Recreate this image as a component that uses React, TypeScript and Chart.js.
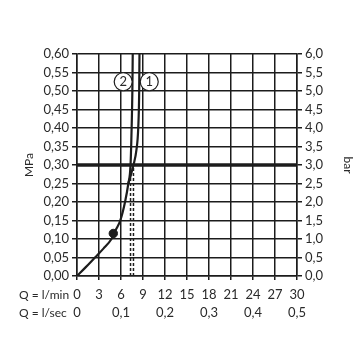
import React, { useEffect, useRef } from "react";
import { Chart, registerables } from "chart.js";

Chart.register(...registerables);

// ---- data ----
const flowLpmTicks = [0, 3, 6, 9, 12, 15, 18, 21, 24, 27, 30];
const flowLpmLabels = ["0", "3", "6", "9", "12", "15", "18", "21", "24", "27", "30"];
const flowLpsTicks = [0, 0.1, 0.2, 0.3, 0.4, 0.5];
const flowLpsLabels = ["0", "0,1", "0,2", "0,3", "0,4", "0,5"];
const mpaTicks = [0, 0.05, 0.1, 0.15, 0.2, 0.25, 0.3, 0.35, 0.4, 0.45, 0.5, 0.55, 0.6];
const mpaLabels = ["0,00", "0,05", "0,10", "0,15", "0,20", "0,25", "0,30", "0,35", "0,40", "0,45", "0,50", "0,55", "0,60"];
const barTicks = [0, 0.5, 1, 1.5, 2, 2.5, 3, 3.5, 4, 4.5, 5, 5.5, 6];
const barLabels = ["0,0", "0,5", "1,0", "1,5", "2,0", "2,5", "3,0", "3,5", "4,0", "4,5", "5,0", "5,5", "6,0"];
const rowTitles = ["Q = l/min", "Q = l/sec"];
const axisTitles = ["MPa", "bar"];

// curve 2 (solid, with marker)
const curve2Q = [0, 1.2, 2.45, 3.6, 4.7, 5.3, 5.9, 6.55, 7.0, 7.3, 7.45, 7.55, 7.6];
const curve2P = [0, 0.024, 0.05, 0.074, 0.1, 0.125, 0.15, 0.2, 0.25, 0.3, 0.4, 0.5, 0.6];
// curve 1 (splits from curve 2 near the top)
const curve1Q = [7.0, 7.3, 7.7, 8.1, 8.35, 8.48, 8.52];
const curve1P = [0.25, 0.27, 0.3, 0.34, 0.4, 0.5, 0.6];
// dashed drop lines at 0.30 MPa
const dropQ = [7.3, 7.7];
const dropP = 0.3;
// reference pressure line
const refP = 0.3;
// marker on curve 2
const markerQ = [4.95];
const markerP = [0.115];
// curve number bubbles
const bubbleLabels = ["2", "1"];
const bubbleQ = [6.3, 9.85];
const bubbleP = [0.525, 0.525];

const FONT = "Lato, 'Open Sans', sans-serif";
const FONT_SIZE = 13;
const INK = "#1c1c1c";
const TXT = "#2a2a2a";
const X_TICK_LEN = 4;
const X_PAD = 7;
const X2_PAD = 3;

const textPlugin = {
  id: "extraText",
  afterDraw(chart: any) {
    const ctx = chart.ctx;
    ctx.save();
    ctx.fillStyle = TXT;
    ctx.font = `${FONT_SIZE}px ${FONT}`;
    ctx.textAlign = "center";
    ctx.textBaseline = "middle";
    const meta = chart.getDatasetMeta(0);
    meta.data.forEach((pt: any, i: number) => {
      ctx.fillText(bubbleLabels[i], pt.x, pt.y + 0.5);
    });
    ctx.textAlign = "left";
    ctx.font = `12px ${FONT}`;
    const half = (FONT_SIZE * 1.2) / 2;
    const xs = chart.scales.x;
    const xs2 = chart.scales.x2;
    ctx.fillText(rowTitles[0], 19, xs.top + X_TICK_LEN + X_PAD + half);
    ctx.fillText(rowTitles[1], 19, xs2.top + X2_PAD + half);
    ctx.restore();
  },
};

export default function App() {
  const ref = useRef<HTMLCanvasElement | null>(null);

  useEffect(() => {
    if (!ref.current) return;
    const tickFont = { family: FONT, size: FONT_SIZE };
    const chart = new Chart(ref.current, {
      type: "scatter",
      data: {
        datasets: [
          {
            data: bubbleQ.map((q, i) => ({ x: q, y: bubbleP[i] })),
            pointRadius: 9,
            pointBackgroundColor: "#ffffff",
            pointBorderColor: INK,
            pointBorderWidth: 1.2,
            showLine: false,
          },
          {
            data: markerQ.map((q, i) => ({ x: q, y: markerP[i] })),
            pointRadius: 4.2,
            pointBackgroundColor: INK,
            pointBorderColor: INK,
            pointBorderWidth: 1,
            showLine: false,
          },
          {
            data: curve2Q.map((q, i) => ({ x: q, y: curve2P[i] })),
            showLine: true,
            borderColor: INK,
            borderWidth: 2.2,
            pointRadius: 0,
            cubicInterpolationMode: "monotone",
          },
          {
            data: curve1Q.map((q, i) => ({ x: q, y: curve1P[i] })),
            showLine: true,
            borderColor: INK,
            borderWidth: 2.2,
            pointRadius: 0,
            cubicInterpolationMode: "monotone",
          },
          ...dropQ.map((q) => ({
            data: [
              { x: q, y: 0 },
              { x: q, y: dropP },
            ],
            showLine: true,
            borderColor: INK,
            borderWidth: 1.5,
            borderDash: [3, 2],
            pointRadius: 0,
          })),
          {
            data: [
              { x: flowLpmTicks[0], y: refP },
              { x: flowLpmTicks[flowLpmTicks.length - 1], y: refP },
            ],
            showLine: true,
            borderColor: INK,
            borderWidth: 3.5,
            pointRadius: 0,
          },
        ] as any,
      },
      options: {
        animation: false,
        responsive: false,
        events: [],
        layout: { padding: { top: 54, bottom: 38, left: 0, right: 0 } },
        plugins: { legend: { display: false }, tooltip: { enabled: false } },
        scales: {
          x: {
            type: "linear",
            position: "bottom",
            min: 0,
            max: 30,
            weight: 0,
            afterBuildTicks: (s: any) => {
              s.ticks = flowLpmTicks.map((v) => ({ value: v }));
            },
            afterFit: (s: any) => {
              s.height = 26;
            },
            ticks: {
              callback: (_v: any, i: number) => flowLpmLabels[i],
              font: tickFont,
              color: TXT,
              padding: X_PAD,
              maxRotation: 0,
              autoSkip: false,
            },
            grid: { color: INK, lineWidth: 1.5, tickLength: X_TICK_LEN },
            border: { color: INK, width: 1.5 },
          },
          x2: {
            type: "linear",
            position: "bottom",
            min: 0,
            max: 0.5,
            weight: 1,
            afterBuildTicks: (s: any) => {
              s.ticks = flowLpsTicks.map((v) => ({ value: v }));
            },
            afterFit: (s: any) => {
              s.height = 20;
            },
            ticks: {
              callback: (_v: any, i: number) => flowLpsLabels[i],
              font: tickFont,
              color: TXT,
              padding: X2_PAD,
              maxRotation: 0,
              autoSkip: false,
            },
            grid: { display: false, drawTicks: false },
            border: { display: false },
          },
          y: {
            type: "linear",
            position: "left",
            min: 0,
            max: 0.6,
            afterBuildTicks: (s: any) => {
              s.ticks = mpaTicks.map((v) => ({ value: v }));
            },
            afterFit: (s: any) => {
              s.width = 77;
            },
            ticks: {
              callback: (_v: any, i: number) => mpaLabels[i],
              font: tickFont,
              color: TXT,
              padding: 3,
              autoSkip: false,
            },
            grid: { color: INK, lineWidth: 1.5, tickLength: 5 },
            border: { color: INK, width: 1.5 },
            title: {
              display: true,
              text: axisTitles[0],
              font: { family: FONT, size: 12 },
              color: TXT,
              padding: { top: 22, bottom: 0 },
            },
          },
          y2: {
            type: "linear",
            position: "right",
            min: 0,
            max: 6,
            afterBuildTicks: (s: any) => {
              s.ticks = barTicks.map((v) => ({ value: v }));
            },
            afterFit: (s: any) => {
              s.width = 63;
            },
            ticks: {
              callback: (_v: any, i: number) => barLabels[i],
              font: tickFont,
              color: TXT,
              padding: 3,
              autoSkip: false,
            },
            grid: { drawOnChartArea: false, color: INK, lineWidth: 1.5, tickLength: 5 },
            border: { color: INK, width: 1.5 },
            title: {
              display: true,
              text: axisTitles[1],
              font: { family: FONT, size: 12 },
              color: TXT,
              padding: { top: 5, bottom: 0 },
            },
          },
        },
      } as any,
      plugins: [textPlugin],
    });
    return () => chart.destroy();
  }, []);

  return (
    <div style={{ position: "fixed", left: 0, top: 0, width: 360, height: 360, background: "#fff" }}>
      <canvas ref={ref} width={360} height={360} style={{ display: "block", width: 360, height: 360 }} />
    </div>
  );
}
